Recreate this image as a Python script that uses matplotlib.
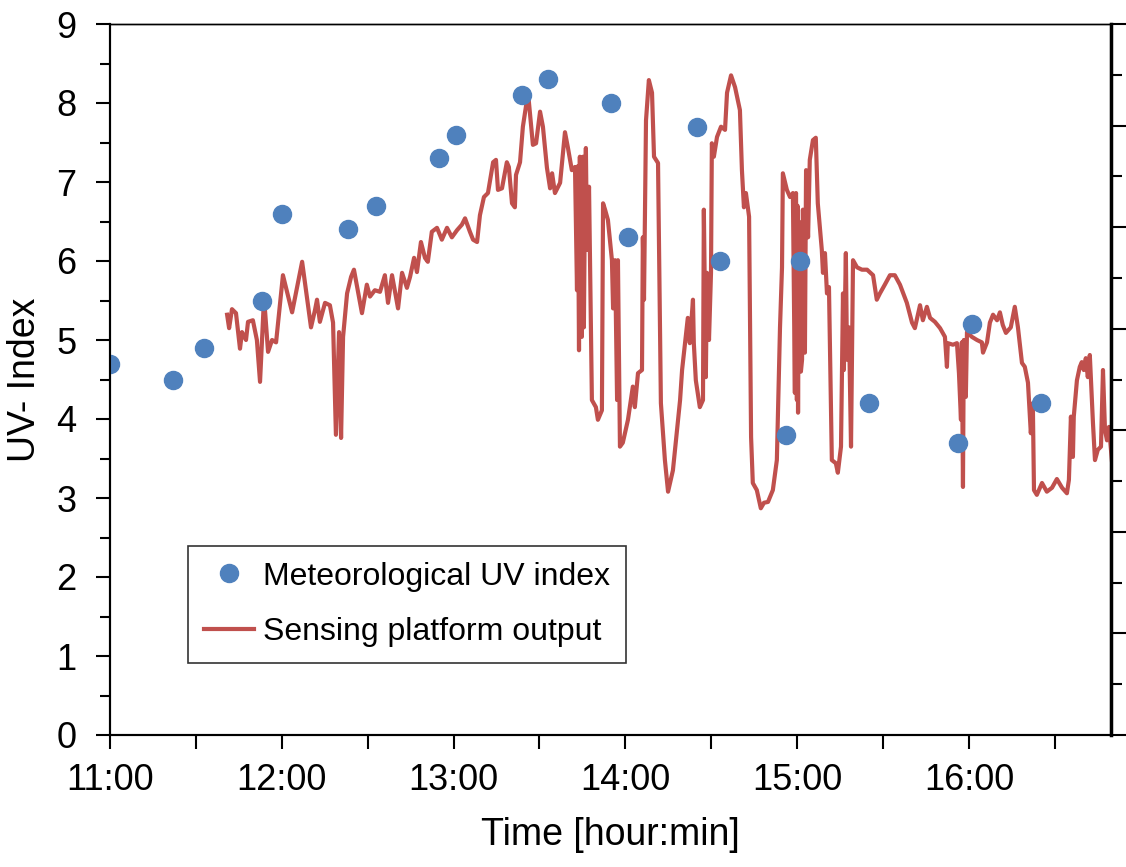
import matplotlib
matplotlib.use('Agg')
from matplotlib import pyplot as plt
from matplotlib.ticker import MultipleLocator, FixedLocator

plt.rcParams['font.family'] = ['Liberation Sans', 'DejaVu Sans']

# time in minutes after 11:00
met_time = [0, 22, 33, 53, 60, 83, 93, 115, 121, 144, 153, 175, 181, 205, 213, 236, 241, 265, 296, 301, 325]
met_uv = [4.7, 4.5, 4.9, 5.5, 6.6, 6.4, 6.7, 7.3, 7.6, 8.1, 8.3, 8.0, 6.3, 7.7, 6.0, 3.8, 6.0, 4.2, 3.7, 5.2, 4.2]

sensor_time = [
    40.9, 41.6, 42.6, 44.0, 45.4, 46.1, 47.5, 48.2, 49.9, 51.3, 52.4, 53.8, 55.2, 56.6, 58.0,
    60.4, 63.6, 67.1, 70.2, 71.6, 72.3, 73.3, 75.1, 76.8, 77.9, 78.9, 80.0, 80.7, 81.4, 82.8,
    84.2, 85.2, 88.0, 89.7, 90.8, 92.5, 94.3, 96.0, 97.1, 98.5, 100.6, 102.0, 103.7, 104.8,
    106.2, 107.2, 108.6, 110.0, 111.0, 112.4, 114.2, 115.9, 117.7, 119.4, 121.2, 122.9, 124.0,
    125.7, 126.8, 128.2, 129.2, 130.6, 132.0, 133.8, 134.8, 135.5, 136.9, 138.6, 139.3, 140.4,
    141.4, 141.8, 143.2, 144.2, 146.0, 147.7, 148.8, 150.2, 151.2, 152.6, 153.7, 154.4, 155.4,
    157.2, 158.9, 159.9, 161.3, 162.4, 163.1, 163.4, 163.8, 164.1, 164.4, 164.8, 165.2, 165.5,
    165.9, 166.2, 166.6, 167.3, 168.3, 169.7, 170.4, 171.8, 172.2, 172.9, 173.9, 175.3, 175.7,
    176.4, 177.1, 177.4, 178.1, 179.1, 180.9, 182.6, 183.3, 184.4, 185.8, 186.1, 186.5, 187.2,
    188.2, 189.3, 190.0, 191.4, 192.4, 193.8, 194.9, 196.6, 199.1, 199.8, 201.8, 202.5, 203.6,
    203.9, 204.6, 206.0, 207.1, 207.4, 208.1, 208.5, 209.2, 209.9, 210.2, 210.9, 212.0, 213.4,
    214.8, 215.5, 216.9, 218.3, 220.0, 220.7, 221.4, 222.1, 223.2, 223.9, 224.5, 225.9, 227.3,
    228.4, 229.8, 231.5, 232.9, 234.0, 234.7, 235.0, 236.4, 237.5, 238.5, 239.2, 239.4, 239.6,
    239.9, 240.1, 240.3, 240.6, 241.0, 241.3, 241.7, 242.0, 242.7, 243.1, 243.8, 244.4, 245.5,
    246.5, 247.2, 248.6, 249.0, 249.7, 250.4, 251.1, 252.1, 253.5, 254.2, 255.3, 256.0, 256.3,
    257.0, 257.4, 258.1, 258.8, 259.5, 260.9, 262.6, 264.4, 266.5, 267.8, 268.9, 270.6, 272.4,
    274.1, 275.9, 278.3, 280.1, 281.1, 282.9, 283.9, 285.3, 286.4, 288.1, 289.9, 291.6, 292.3,
    292.6, 294.4, 295.8, 296.5, 297.2, 297.5, 297.9, 298.2, 298.9, 299.3, 301.0, 302.8, 304.5,
    304.9, 306.3, 307.3, 308.4, 309.8, 310.8, 311.8, 312.9, 314.6, 316.0, 317.1, 318.5, 319.5,
    320.6, 321.6, 322.3, 322.7, 323.7, 325.5, 327.2, 329.0, 330.7, 332.5, 334.2, 334.9, 335.6,
    336.3, 336.6, 337.7, 338.7, 339.4, 340.1, 340.8, 341.5, 342.2, 343.3, 344.0, 345.0, 346.1,
    346.8, 347.5, 348.2, 348.9, 349.9,
]
sensor_uv = [
    5.32, 5.15, 5.39, 5.34, 4.89, 5.10, 5.00, 5.23, 5.25, 5.00, 4.47, 5.54, 4.85, 5.00, 4.97,
    5.82, 5.35, 5.99, 5.16, 5.38, 5.51, 5.23, 5.47, 5.44, 5.22, 3.80, 5.10, 3.76, 5.04, 5.59,
    5.80, 5.89, 5.34, 5.70, 5.55, 5.63, 5.61, 5.82, 5.47, 5.82, 5.40, 5.85, 5.66, 5.80,
    6.04, 5.86, 6.24, 6.04, 5.99, 6.37, 6.42, 6.27, 6.42, 6.30, 6.39, 6.46, 6.54,
    6.37, 6.27, 6.24, 6.58, 6.81, 6.86, 7.25, 7.28, 6.90, 6.92, 7.25, 7.19, 6.73,
    6.68, 7.09, 7.25, 7.70, 8.13, 7.47, 7.49, 7.89, 7.70, 7.18, 6.92, 7.11, 6.86,
    6.99, 7.63, 7.44, 7.15, 7.19, 5.63, 7.20, 4.87, 7.32, 5.30, 5.04, 7.32, 5.16,
    6.90, 7.43, 6.14, 6.94, 4.24, 4.15, 3.99, 4.11, 6.73, 6.65, 6.52, 6.01, 5.40,
    6.01, 4.24, 6.01, 3.65, 3.70, 3.99, 4.41, 4.15, 4.58, 4.62, 6.30, 5.51, 7.78,
    8.29, 8.13, 7.32, 7.24, 4.20, 3.48, 3.08, 3.35, 4.24, 4.62, 5.28, 4.96, 5.51,
    4.96, 4.49, 4.15, 4.24, 6.65, 4.53, 5.85, 5.00, 5.85, 7.49, 7.32, 7.57, 7.70,
    7.66, 8.13, 8.35, 8.20, 7.91, 7.15, 6.68, 6.86, 6.56, 3.77, 3.19, 3.10, 2.87,
    2.94, 2.95, 3.10, 3.48, 5.16, 5.92, 7.11, 6.90, 6.81, 6.86, 4.33, 6.80, 6.86,
    4.24, 6.70, 4.08, 6.50, 6.01, 4.60, 4.75, 6.65, 4.84, 7.15, 6.30, 7.28, 7.53,
    7.56, 6.73, 6.14, 5.85, 6.10, 5.59, 5.67, 3.48, 3.44, 3.32, 3.65, 5.59, 4.62,
    6.10, 4.75, 5.16, 3.65, 6.01, 5.92, 5.89, 5.89, 5.82, 5.51, 5.59, 5.70, 5.82,
    5.82, 5.70, 5.47, 5.22, 5.15, 5.44, 5.25, 5.42, 5.28, 5.23, 5.15, 5.04, 4.66,
    4.96, 4.94, 4.96, 4.58, 3.99, 4.97, 3.14, 5.00, 4.28, 5.10, 5.04, 5.00, 4.97,
    4.84, 4.97, 5.22, 5.32, 5.25, 5.35, 5.19, 5.09, 5.16, 5.42, 5.16, 4.71, 4.66,
    4.46, 3.82, 4.20, 3.10, 3.04, 3.19, 3.08, 3.13, 3.24, 3.13, 3.06, 3.23, 4.03,
    3.52, 4.03, 4.49, 4.66, 4.72, 4.62, 4.77, 4.53, 4.81, 3.95, 3.48, 3.61, 3.65,
    4.62, 3.86, 3.73, 3.90, 3.48,
]

hour_ticks = [0, 60, 120, 180, 240, 300]
hour_labels = ['11:00', '12:00', '13:00', '14:00', '15:00', '16:00']

red = '#C0504D'
blue = '#4F81BD'

fig = plt.figure(figsize=(11.26, 8.67), dpi=100)
ax = fig.add_axes([110 / 1126, 1 - 735 / 867, 1001 / 1126, 711 / 867])

n = min(len(sensor_time), len(sensor_uv))
ax.plot(sensor_time[:n], sensor_uv[:n], color=red, lw=3.0, label='Sensing platform output', zorder=2)
ax.plot(met_time, met_uv, 'o', color=blue, ms=13, mec=blue, label='Meteorological UV index', zorder=3)

ax.set_xlim(0, 349.6)
ax.set_ylim(0, 9)
ax.xaxis.set_major_locator(FixedLocator(hour_ticks))
ax.set_xticklabels(hour_labels)
ax.xaxis.set_minor_locator(MultipleLocator(30))
ax.yaxis.set_major_locator(MultipleLocator(1))
ax.yaxis.set_minor_locator(MultipleLocator(0.5))

ax.tick_params(axis='both', which='major', direction='out', length=10, width=1.5, labelsize=26)
ax.tick_params(axis='x', which='major', pad=10)
ax.tick_params(axis='y', which='major', pad=14)
ax.tick_params(axis='x', which='minor', direction='out', length=10, width=1.5)
ax.tick_params(axis='y', which='minor', direction='out', length=7, width=1.5)
for s in ax.spines.values():
    s.set_linewidth(1.5)
ax.spines['top'].set_linewidth(1.0)

ax.set_xlabel('Time [hour:min]', fontsize=27, labelpad=14)
ax.set_ylabel('UV- Index', fontsize=27, labelpad=10)

# secondary axis on the right, ticks only
ax2 = ax.twinx()
ax2.set_ylim(0, 7)
ax2.yaxis.set_major_locator(MultipleLocator(1))
ax2.yaxis.set_minor_locator(MultipleLocator(0.5))
ax2.tick_params(axis='y', which='major', direction='out', length=11, width=1.5, labelright=False)
ax2.tick_params(axis='y', which='minor', direction='out', length=8, width=1.5)
for s in ax2.spines.values():
    s.set_linewidth(1.5)
ax2.spines['right'].set_linewidth(2.5)
ax2.spines['top'].set_linewidth(1.0)

handles, labels = ax.get_legend_handles_labels()
leg = ax.legend(handles[::-1], labels[::-1], loc='lower left', bbox_to_anchor=(0.078, 0.101),
                borderaxespad=0, fontsize=23, frameon=True, fancybox=False, edgecolor='black',
                handlelength=1.55, handletextpad=0.3, borderpad=0.5, labelspacing=0.8)
leg.get_frame().set_linewidth(1.2)

fig.savefig('out.png', dpi=100)
